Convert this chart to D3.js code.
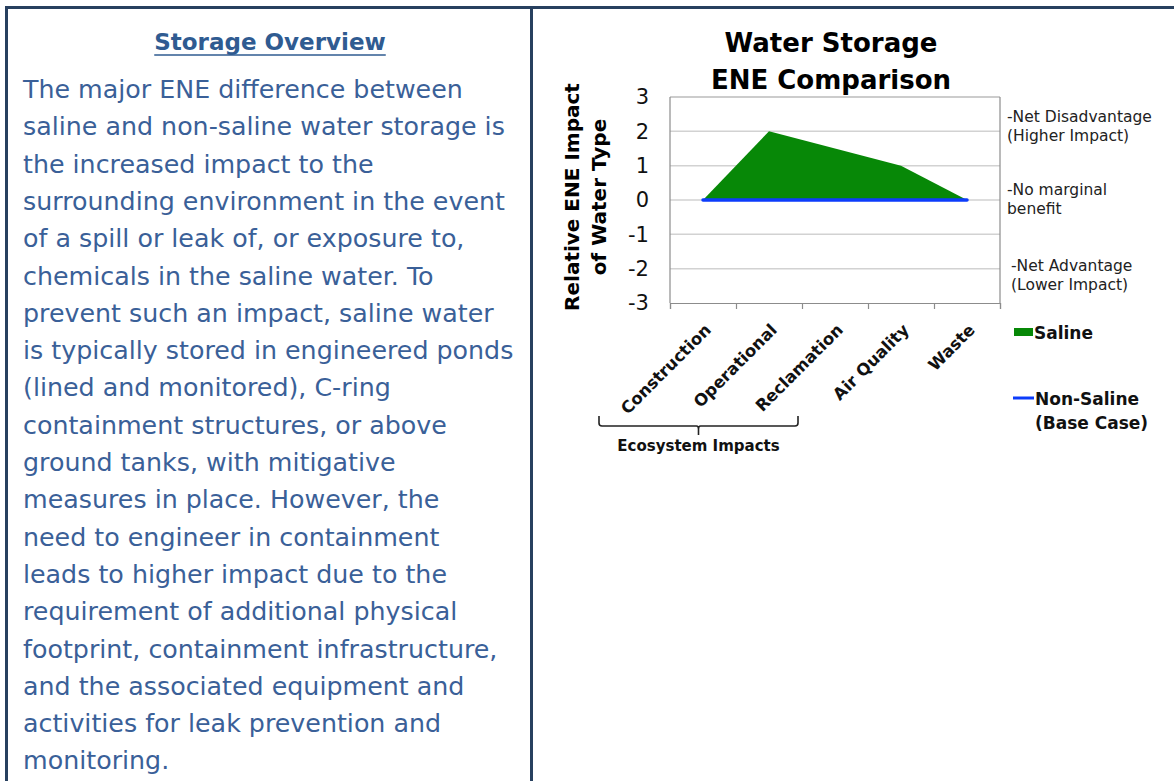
<!DOCTYPE html>
<html>
<head>
<meta charset="utf-8">
<script src="https://cdn.jsdelivr.net/npm/d3@7"></script>
<style>
  html, body { margin: 0; padding: 0; background: #fff; }
  svg { display: block; }
</style>
</head>
<body>
<svg id="page" width="1174" height="781"></svg>
<script>
// Categories along the x axis and the relative ENE impact for each water type
const categories = ["Construction", "Operational", "Reclamation", "Air Quality", "Waste"];
const salineValues = [0, 2, 1.5, 1, 0];
const nonSalineValues = [0, 0, 0, 0, 0];
const yTickValues = [3, 2, 1, 0, -1, -2, -3];
const gridValues = [2, 1, 0, -1, -2];
const groupedCategories = ["Construction", "Operational", "Reclamation"];

// Side notes explaining the meaning of the y-axis range (value = level of the first line)
const sideNotes = [
  { value: 2.42, indent: 0, lines: ["-Net Disadvantage", "(Higher Impact)"] },
  { value: 0.29, indent: 0, lines: ["-No marginal", "benefit"] },
  { value: -1.92, indent: 4, lines: ["-Net Advantage", "(Lower Impact)"] }
];

// Narrative text for the left-hand panel
const overviewTitle = "Storage Overview";
const overviewLines = [
  "The major ENE difference between",
  "saline and non-saline water storage is",
  "the increased impact to the",
  "surrounding environment in the event",
  "of a spill or leak of, or exposure to,",
  "chemicals in the saline water. To",
  "prevent such an impact, saline water",
  "is typically stored in engineered ponds",
  "(lined and monitored), C-ring",
  "containment structures, or above",
  "ground tanks, with mitigative",
  "measures in place. However, the",
  "need to engineer in containment",
  "leads to higher impact due to the",
  "requirement of additional physical",
  "footprint, containment infrastructure,",
  "and the associated equipment and",
  "activities for leak prevention and",
  "monitoring."
];

const FONT = "'DejaVu Sans', 'Noto Sans', sans-serif";
const svg = d3.select("#page");

// ---- page frame ----
const frameColor = "#28405f";
svg.append("line").attr("x1", 5).attr("x2", 1174).attr("y1", 7.5).attr("y2", 7.5)
  .attr("stroke", frameColor).attr("stroke-width", 3);
svg.append("line").attr("x1", 6.5).attr("x2", 6.5).attr("y1", 6).attr("y2", 781)
  .attr("stroke", frameColor).attr("stroke-width", 3);
svg.append("line").attr("x1", 531.5).attr("x2", 531.5).attr("y1", 6).attr("y2", 781)
  .attr("stroke", frameColor).attr("stroke-width", 3);

// ---- left panel text ----
const textBlue = "#3a6098";
const heading = svg.append("text")
  .attr("x", 270).attr("y", 50)
  .attr("text-anchor", "middle")
  .attr("font-family", FONT).attr("font-weight", "bold").attr("font-size", 23)
  .attr("fill", "#2f5b91")
  .text(overviewTitle);
const hb = heading.node().getBBox();
svg.append("line").attr("x1", hb.x).attr("x2", hb.x + hb.width)
  .attr("y1", 55).attr("y2", 55).attr("stroke", "#2f5b91").attr("stroke-width", 1.5);

const body = svg.append("g")
  .attr("font-family", FONT).attr("font-size", 23).attr("fill", textBlue);
body.selectAll("text").data(overviewLines).join("text")
  .attr("x", 23)
  .attr("y", (d, i) => 98 + i * 37.3)
  .text(d => d);

// size the body text so the second line spans the panel width
(function fitBody() {
  const ref = body.selectAll("text").filter((d, i) => i === 1).node();
  const w = ref.getComputedTextLength();
  body.attr("font-size", 23 * 482 / w);
})();

// ---- chart ----
const x = d3.scaleBand().domain(categories).range([670, 1000]);
const y = d3.scaleLinear().domain([-3, 3]).range([303, 97]);
const cx = c => x(c) + x.bandwidth() / 2;

// grid lines
svg.append("g").selectAll("line").data(gridValues).join("line")
  .attr("x1", 670).attr("x2", 1000)
  .attr("y1", d => y(d)).attr("y2", d => y(d))
  .attr("stroke", "#d2d2d2").attr("stroke-width", 1.5);

// plot frame (top, left, right)
const frame = svg.append("g").attr("stroke", "#8c8c8c").attr("stroke-width", 1.2).attr("fill", "none");
frame.append("line").attr("x1", 670).attr("x2", 1000).attr("y1", y(3)).attr("y2", y(3)).attr("stroke", "#9a9a9a");
frame.append("line").attr("x1", 670).attr("x2", 670).attr("y1", y(3)).attr("y2", y(-3));
frame.append("line").attr("x1", 1000).attr("x2", 1000).attr("y1", y(3)).attr("y2", y(-3));

// bottom axis with ticks at category boundaries
const boundaryScale = d3.scaleLinear().domain([0, categories.length]).range(x.range());
svg.append("g")
  .attr("transform", `translate(0,${y(-3)})`)
  .call(d3.axisBottom(boundaryScale).ticks(categories.length).tickFormat("").tickSize(6).tickSizeOuter(6))
  .call(g => g.selectAll("path, line").attr("stroke", "#8c8c8c").attr("stroke-width", 1.2));

// y axis labels
svg.append("g")
  .attr("transform", "translate(670,0)")
  .call(d3.axisLeft(y).tickValues(yTickValues).tickSize(0).tickPadding(21).tickFormat(d3.format("d")))
  .call(g => g.select(".domain").remove())
  .call(g => g.selectAll("text")
    .attr("font-family", FONT).attr("font-size", 21).attr("fill", "#111")
    .text(d => d < 0 ? "-" + Math.abs(d) : d));

// saline area
const salineData = categories.map((c, i) => ({ c, v: salineValues[i] }));
svg.append("path")
  .datum(salineData)
  .attr("fill", "#078807")
  .attr("d", d3.area().x(d => cx(d.c)).y0(y(0)).y1(d => y(d.v)));

// non-saline base case line
const nonSalineData = categories.map((c, i) => ({ c, v: nonSalineValues[i] }));
svg.append("path")
  .datum(nonSalineData)
  .attr("fill", "none").attr("stroke", "#0c3cfb").attr("stroke-width", 3.5)
  .attr("stroke-linecap", "round")
  .attr("d", d3.line().x(d => cx(d.c)).y(d => y(d.v)));

// category labels, rotated
svg.append("g").selectAll("text").data(categories).join("text")
  .attr("transform", d => `translate(${cx(d) + 9},${331}) rotate(-45)`)
  .attr("text-anchor", "end")
  .attr("font-family", FONT).attr("font-weight", "bold").attr("font-size", 16.5)
  .attr("fill", "#111")
  .text(d => d);

// bracket grouping the ecosystem categories
const left = cx(groupedCategories[0]) - 104;
const right = cx(groupedCategories[groupedCategories.length - 1]) - 37;
const mid = (left + right) / 2;
svg.append("path")
  .attr("fill", "none").attr("stroke", "#222").attr("stroke-width", 1.6)
  .attr("d", `M${left},416 L${left},423 Q${left},426 ${left + 3},426 L${mid - 2},426 Q${mid},426 ${mid},429 L${mid},435 M${mid},429 Q${mid},426 ${mid + 2},426 L${right - 3},426 Q${right},426 ${right},423 L${right},416`);
svg.append("text")
  .attr("x", mid).attr("y", 451)
  .attr("text-anchor", "middle")
  .attr("font-family", FONT).attr("font-weight", "bold").attr("font-size", 15)
  .attr("fill", "#111")
  .text("Ecosystem Impacts");

// chart title
svg.append("g").selectAll("text").data(["Water Storage", "ENE Comparison"]).join("text")
  .attr("x", 831).attr("y", (d, i) => 52 + i * 37)
  .attr("text-anchor", "middle")
  .attr("font-family", FONT).attr("font-weight", "bold").attr("font-size", 26)
  .attr("fill", "#000")
  .text(d => d);

// y axis title
svg.append("g").selectAll("text").data(["Relative ENE Impact", "of Water Type"]).join("text")
  .attr("transform", (d, i) => `translate(${579 + i * 27},197) rotate(-90)`)
  .attr("text-anchor", "middle")
  .attr("font-family", FONT).attr("font-weight", "bold").attr("font-size", 20)
  .attr("fill", "#000")
  .text(d => d);

// side notes to the right of the plot
const notes = svg.append("g").attr("font-family", FONT).attr("font-size", 15.5).attr("fill", "#222");
sideNotes.forEach(n => {
  n.lines.forEach((line, j) => {
    notes.append("text")
      .attr("x", 1007 + n.indent)
      .attr("y", y(n.value) + j * 19)
      .attr("dy", "0.35em")
      .text(line);
  });
});

// legend
const legend = svg.append("g").attr("font-family", FONT).attr("font-weight", "bold").attr("font-size", 17).attr("fill", "#111");
legend.append("rect").attr("x", 1014).attr("y", 328).attr("width", 19).attr("height", 8).attr("fill", "#078807");
legend.append("text").attr("x", 1034).attr("y", 339).text("Saline");
legend.append("line").attr("x1", 1013).attr("x2", 1034).attr("y1", 398).attr("y2", 398)
  .attr("stroke", "#0c3cfb").attr("stroke-width", 3);
legend.append("text").attr("x", 1035).attr("y", 405).text("Non-Saline");
legend.append("text").attr("x", 1035).attr("y", 429).text("(Base Case)");
</script>
</body>
</html>
